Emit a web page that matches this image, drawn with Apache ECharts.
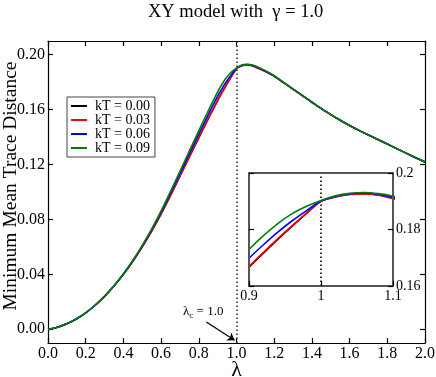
<!DOCTYPE html>
<html>
<head>
<meta charset="utf-8">
<script src="https://cdn.jsdelivr.net/npm/echarts@6/dist/echarts.min.js"></script>
<style>html,body{margin:0;padding:0;background:#fff}#c{width:436px;height:377px}</style>
</head>
<body>
<div id="c"></div>
<script>
// ---- data ----
const lambda = [0,0.05,0.1,0.15,0.2,0.25,0.3,0.35,0.4,0.45,0.5,0.55,0.6,0.65,0.7,0.75,0.8,0.85,0.9,
  0.92,0.94,0.96,0.98,1.0,1.02,1.04,1.06,1.08,1.1,
  1.15,1.2,1.25,1.3,1.35,1.4,1.45,1.5,1.55,1.6,1.65,1.7,1.75,1.8,1.85,1.9,1.95,2.0];
const kT000 = [0,0.0015,0.0040,0.0075,0.0120,0.0175,0.0240,0.0315,0.0400,0.0495,0.0600,0.0715,0.0840,0.0975,0.1115,0.1255,0.1395,0.1532,0.1666,
  0.1716,0.1765,0.1812,0.1857,0.1900,0.1916,0.1925,0.1927,0.1922,0.1911,
  0.1881,0.1844,0.1797,0.1750,0.1702,0.1654,0.1607,0.1564,0.1523,0.1485,0.1449,0.1415,0.1382,0.1349,0.1316,0.1283,0.1250,0.1218];
const kT003 = [0,0.0015,0.0040,0.0075,0.0120,0.0175,0.0240,0.0315,0.0400,0.0495,0.0600,0.0715,0.0841,0.0977,0.1118,0.1259,0.1400,0.1536,0.1669,
  0.1719,0.1768,0.1814,0.1858,0.1900,0.1915,0.1924,0.1926,0.1921,0.1909,
  0.1880,0.1844,0.1797,0.1750,0.1702,0.1654,0.1607,0.1564,0.1523,0.1485,0.1449,0.1415,0.1382,0.1349,0.1316,0.1283,0.1250,0.1218];
const kT006 = [0,0.0015,0.0040,0.0075,0.0120,0.0175,0.0240,0.0315,0.0402,0.0499,0.0606,0.0724,0.0852,0.0991,0.1135,0.1279,0.1423,0.1563,0.1698,
  0.1746,0.1791,0.1831,0.1867,0.1901,0.1917,0.1926,0.1929,0.1924,0.1914,
  0.1883,0.1845,0.1797,0.1750,0.1702,0.1654,0.1607,0.1564,0.1523,0.1485,0.1449,0.1415,0.1382,0.1349,0.1316,0.1283,0.1250,0.1218];
const kT009 = [0,0.0015,0.0040,0.0075,0.0120,0.0175,0.0241,0.0317,0.0404,0.0502,0.0611,0.0731,0.0862,0.1004,0.1151,0.1299,0.1447,0.1591,0.1729,
  0.1778,0.1821,0.1856,0.1882,0.1903,0.1919,0.1928,0.1931,0.1927,0.1918,
  0.1886,0.1847,0.1798,0.1750,0.1702,0.1654,0.1607,0.1564,0.1523,0.1485,0.1449,0.1415,0.1382,0.1349,0.1316,0.1283,0.1250,0.1218];
const seriesNames = ['kT = 0.00','kT = 0.03','kT = 0.06','kT = 0.09'];
const seriesColors = ['#000000','#ff0000','#0000ff','#008000'];
const mainYTicks = [0,0.04,0.08,0.12,0.16,0.20];
const criticalLambda = 1.0;
const arrowFrom = [0.84, 0.0053];
const arrowTo = [0.99, -0.008];

const F = 'Liberation Serif, Times New Roman, serif';
const allData = [kT000,kT003,kT006,kT009].map(arr => lambda.map((x,i)=>[x,arr[i]]));

const chart = echarts.init(document.getElementById('c'), null, {renderer:'canvas'});

function axisCommon(extra){
  return Object.assign({
    type:'value',
    splitLine:{show:false},
    axisLine:{show:true, onZero:false, lineStyle:{color:'#000', width:1.2}},
    axisTick:{show:true, inside:true, length:5, lineStyle:{color:'#000', width:1.2}},
    axisLabel:{color:'#000', fontFamily:F, fontSize:16}
  }, extra);
}
const insetLine = {show:true, onZero:false, lineStyle:{color:'#555', width:2}};
const insetTick = {show:true, inside:true, length:5, lineStyle:{color:'#000', width:1.2}};
const fmt2 = v => String(Math.round(v*100)/100);

const series = [];
allData.forEach((d,i)=>{
  const s = {
    name: seriesNames[i], type:'line', data:d, xAxisIndex:0, yAxisIndex:0,
    showSymbol:false, symbol:'none', smooth:0.3, clip:true,
    lineStyle:{color:seriesColors[i], width:1.6}, itemStyle:{color:seriesColors[i]}, z:3
  };
  if(i===0){
    s.markLine = {
      silent:true, animation:false,
      label:{show:false},
      data:[
        [{coord:[criticalLambda,-0.01], symbol:'none'},{coord:[criticalLambda,0.21], symbol:'none'}],
        [{coord:arrowFrom, symbol:'none'},{coord:arrowTo, symbol:'arrow'}]
      ],
      symbolSize:7,
      lineStyle:{color:'#000', width:1.3}
    };
    s.markLine.data[0][0].lineStyle = {type:[1.5,2.5], color:'#333', width:1.6};
    s.markLine.data[1][0].lineStyle = {type:'solid', color:'#000', width:1.3};
  }
  series.push(s);
});
allData.forEach((d,i)=>{
  const s = {
    name: seriesNames[i], type:'line', data:d, xAxisIndex:2, yAxisIndex:2,
    showSymbol:false, symbol:'none', smooth:0.3, clip:true,
    lineStyle:{color:seriesColors[i], width:1.6}, itemStyle:{color:seriesColors[i]}, z:5
  };
  if(i===0){
    s.markLine = {
      silent:true, animation:false, symbol:'none', label:{show:false},
      data:[[{coord:[criticalLambda,0.16]},{coord:[criticalLambda,0.2]}]],
      lineStyle:{type:[1.5,2.5], color:'#000', width:1.6}
    };
  }
  series.push(s);
});

chart.setOption({
  animation:false,
  backgroundColor:'#fff',
  title:{
    text:'XY model with  \u03b3 = 1.0',
    left:148, top:3, padding:0,
    textStyle:{fontFamily:F, fontSize:18.5, fontWeight:'normal', color:'#000'}
  },
  legend:{
    orient:'vertical', left:67, top:97,
    data:seriesNames, icon:'rect', itemWidth:16, itemHeight:2, itemGap:0,
    padding:[2,5,2,4], borderColor:'#444', borderWidth:1, backgroundColor:'#fff',
    textStyle:{fontFamily:F, fontSize:14, color:'#000', lineHeight:13, padding:[0,0,0,3]},
    selectedMode:false
  },
  grid:[
    {left:48, right:11, top:41, bottom:34, containLabel:false, outerBoundsMode:'none'},
    {left:249, top:173, width:144, height:113, show:true, backgroundColor:'#fff', borderWidth:0, z:4, containLabel:false, outerBoundsMode:'none'}
  ],
  xAxis:[
    axisCommon({gridIndex:0, position:'bottom', min:0, max:2, interval:0.2,
      axisLabel:{color:'#000', fontFamily:F, fontSize:16, margin:3, formatter:v=>v.toFixed(1)},
      name:'\u03bb', nameLocation:'middle', nameGap:16, nameMoveOverlap:false,
      nameTextStyle:{fontFamily:F, fontSize:22, color:'#000', verticalAlign:'top'}}),
    axisCommon({gridIndex:0, position:'top', min:0, max:2, interval:0.2, axisLabel:{show:false}}),
    {type:'value', gridIndex:1, position:'bottom', min:0.9, max:1.1, interval:0.1,
      splitLine:{show:false}, axisLine:insetLine, axisTick:insetTick,
      axisLabel:{color:'#000', fontFamily:F, fontSize:14, margin:3, formatter:fmt2}, z:6},
    {type:'value', gridIndex:1, position:'top', min:0.9, max:1.1, interval:0.1,
      splitLine:{show:false}, axisLine:insetLine, axisTick:{show:false}, axisLabel:{show:false}, z:6}
  ],
  yAxis:[
    axisCommon({gridIndex:0, position:'left', min:-0.01, max:0.21,
      axisTick:{show:true, inside:true, length:5, customValues:mainYTicks, lineStyle:{color:'#000', width:1.2}},
      axisLabel:{color:'#000', fontFamily:F, fontSize:16, margin:3, customValues:mainYTicks, formatter:v=>v.toFixed(2)},
      name:'Minimum Mean Trace Distance', nameLocation:'middle', nameGap:27, nameRotate:90, nameMoveOverlap:false,
      nameTextStyle:{fontFamily:F, fontSize:19.5, color:'#000', padding:[0,0,0,12]}}),
    axisCommon({gridIndex:0, position:'right', min:-0.01, max:0.21,
      axisTick:{show:true, inside:true, length:5, customValues:mainYTicks, lineStyle:{color:'#000', width:1.2}},
      axisLabel:{show:false}}),
    {type:'value', gridIndex:1, position:'left', min:0.16, max:0.2, interval:0.02,
      splitLine:{show:false}, axisLine:insetLine, axisTick:insetTick, axisLabel:{show:false}, z:6},
    {type:'value', gridIndex:1, position:'right', min:0.16, max:0.2, interval:0.02,
      splitLine:{show:false}, axisLine:insetLine, axisTick:insetTick,
      axisLabel:{color:'#000', fontFamily:F, fontSize:14, margin:3, formatter:fmt2}, z:6}
  ],
  graphic:[{
    type:'text', left:183, top:304, z:10,
    style:{
      text:'{l|\u03bb}{c|c}{l| = 1.0}',
      rich:{
        l:{fontFamily:F, fontSize:13, fill:'#000', lineHeight:16},
        c:{fontFamily:F, fontSize:9, fill:'#000', lineHeight:16, padding:[7,0,0,0]}
      }
    }
  }],
  series:series
});
</script>
</body>
</html>
